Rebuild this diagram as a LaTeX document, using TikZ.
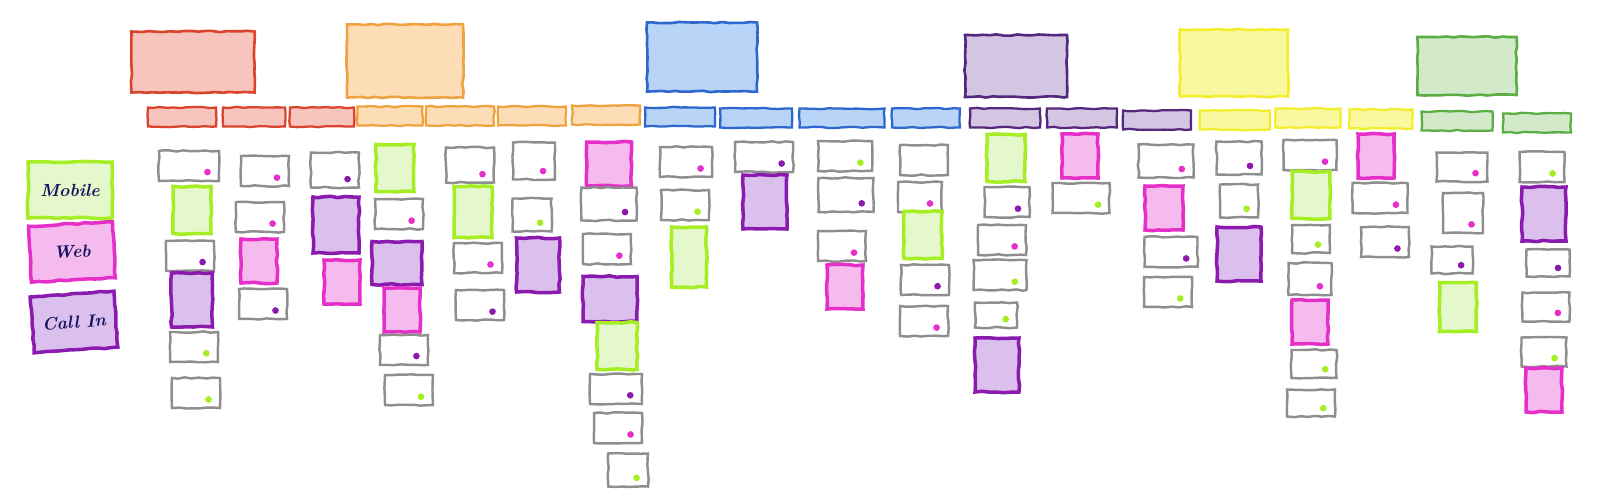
\documentclass[tikz,border=0pt]{standalone}
\usepackage{tikz}
\usetikzlibrary{positioning,decorations.pathmorphing}

\definecolor{redline}{HTML}{D8452C}
\definecolor{redfill}{HTML}{F8C5BE}
\definecolor{orangeline}{HTML}{EFA23F}
\definecolor{orangefill}{HTML}{FCDDB5}
\definecolor{blueline}{HTML}{2E68CF}
\definecolor{bluefill}{HTML}{B8D4F6}
\definecolor{purpleline}{HTML}{55287F}
\definecolor{purplefill}{HTML}{D4C5E2}
\definecolor{yellowline}{HTML}{F2EE2E}
\definecolor{yellowfill}{HTML}{FAF89E}
\definecolor{greenline}{HTML}{5AAE44}
\definecolor{greenfill}{HTML}{D2EACA}
\definecolor{mobline}{HTML}{A6EE24}
\definecolor{mobfill}{HTML}{E4F8CC}
\definecolor{webline}{HTML}{E62EC8}
\definecolor{webfill}{HTML}{F5BBEE}
\definecolor{callline}{HTML}{8A1BAE}
\definecolor{callfill}{HTML}{DBBFEC}
\definecolor{storygray}{HTML}{8E8E8E}
\definecolor{inkblue}{HTML}{12125E}

\begin{document}
\begin{tikzpicture}[x=0.02cm,y=0.02cm]
	\tikzset{sketch/.style={rectangle,inner sep=0pt,decorate,decoration={random steps,segment length=4pt,amplitude=0.4pt}},
		epic/.style={sketch,draw=#1line,fill=#1fill,line width=1.5pt},
		bar/.style={sketch,draw=#1line,fill=#1fill,line width=1.3pt,minimum width=1.36cm,minimum height=0.38cm},
		story/.style={sketch,draw=storygray,line width=1.4pt,minimum width=0.96cm,minimum height=0.6cm},
		spot/.style={path picture={\fill[#1] ([xshift=-0.24cm,yshift=0.18cm]path picture bounding box.south east) circle (1.9pt);}},
		mobile/.style={sketch,draw=mobline,fill=mobfill,line width=2pt,minimum width=0.76cm,minimum height=0.94cm},
		web/.style={sketch,draw=webline,fill=webfill,line width=2pt,minimum width=0.72cm,minimum height=0.88cm},
		callin/.style={sketch,draw=callline,fill=callfill,line width=2pt,minimum width=0.88cm,minimum height=1.08cm},
		legend/.style={minimum width=1.68cm,minimum height=1.12cm,font=\bfseries\itshape,text=inkblue}}
	\useasboundingbox (0,0) rectangle (1600,-495);
	% legend
	\node[mobile,legend] (lmob) at (70,-190) {Mobile};
	\node[web,legend,rotate=3] (lweb) at (72,-252) {Web};
	\node[callin,legend,rotate=4] (lcall) at (74,-322) {Call In};
	% epics
	\node[epic=red,minimum width=2.46cm,minimum height=1.22cm] (r) at (193,-62) {};
	\node[epic=orange,minimum width=2.32cm,minimum height=1.46cm] (o) at (405,-61) {};
	\node[epic=blue,minimum width=2.2cm,minimum height=1.38cm] (b) at (702,-57) {};
	\node[epic=purple,minimum width=2.04cm,minimum height=1.24cm] (p) at (1016,-66) {};
	\node[epic=yellow,minimum width=2.16cm,minimum height=1.34cm] (y) at (1234,-63) {};
	\node[epic=green,minimum width=1.98cm,minimum height=1.16cm] (g) at (1467,-66) {};
	% activities
	\node[bar=red] (r1) at (182,-117) {};
	\node[bar=red,minimum width=1.24cm] (r2) at (254,-117) {};
	\node[bar=red,minimum width=1.28cm] (r3) at (322,-117) {};
	\node[bar=orange,minimum width=1.3cm] (o1) at (390,-116) {};
	\node[bar=orange] (o2) at (460,-116) {};
	\node[bar=orange] (o3) at (532,-116) {};
	\node[bar=orange] (o4) at (606,-115) {};
	\node[bar=blue,minimum width=1.4cm] (b1) at (680,-117) {};
	\node[bar=blue,minimum width=1.44cm] (b2) at (756,-118) {};
	\node[bar=blue,minimum width=1.7cm] (b3) at (842,-118) {};
	\node[bar=blue] (b4) at (926,-118) {};
	\node[bar=purple,minimum width=1.4cm] (p1) at (1005,-118) {};
	\node[bar=purple,minimum width=1.4cm] (p2) at (1082,-118) {};
	\node[bar=purple] (p3) at (1157,-120) {};
	\node[bar=yellow,minimum width=1.4cm] (y1) at (1235,-120) {};
	\node[bar=yellow,minimum width=1.3cm] (y2) at (1308,-118) {};
	\node[bar=yellow,minimum width=1.26cm] (y3) at (1381,-119) {};
	\node[bar=green,minimum width=1.42cm] (g1) at (1457,-121) {};
	\node[bar=green] (g2) at (1537,-123) {};
	% stories
	\node[story,spot=webline,minimum width=1.2cm] (r1a) at (189,-166) {};
	\node[mobile] (r1b) at (192,-210) {};
	\node[story,spot=callline] (r1c) at (190,-256) {};
	\node[callin,minimum width=0.82cm] (r1d) at (192,-300) {};
	\node[story,spot=mobline] (r1e) at (194,-347) {};
	\node[story,spot=mobline] (r1f) at (196,-393) {};
	\node[story,spot=webline] (r2a) at (265,-171) {};
	\node[story,spot=webline] (r2b) at (260,-217) {};
	\node[web] (r2c) at (259,-261) {};
	\node[story,spot=callline] (r2d) at (263,-304) {};
	\node[story,spot=callline,minimum height=0.7cm] (r3a) at (335,-170) {};
	\node[callin,minimum width=0.92cm,minimum height=1.12cm] (r3b) at (336,-225) {};
	\node[web] (r3c) at (342,-282) {};
	\node[mobile] (o1a) at (395,-168) {};
	\node[story,spot=webline] (o1b) at (399,-214) {};
	\node[callin,minimum width=1cm,minimum height=0.86cm] (o1c) at (397,-263) {};
	\node[web] (o1d) at (402,-310) {};
	\node[story,spot=callline] (o1e) at (404,-350) {};
	\node[story,spot=mobline] (o1f) at (409,-390) {};
	\node[story,spot=webline,minimum height=0.7cm] (o2a) at (470,-165) {};
	\node[mobile,minimum height=1.02cm] (o2b) at (473,-212) {};
	\node[story,spot=webline] (o2c) at (478,-258) {};
	\node[story,spot=callline] (o2d) at (480,-305) {};
	\node[story,spot=webline,minimum width=0.84cm,minimum height=0.74cm] (o3a) at (534,-161) {};
	\node[story,spot=mobline,minimum width=0.78cm,minimum height=0.66cm] (o3b) at (532,-215) {};
	\node[callin,minimum width=0.86cm] (o3c) at (538,-265) {};
	\node[web,minimum width=0.9cm] (o4a) at (609,-164) {};
	\node[story,spot=callline,minimum width=1.1cm,minimum height=0.66cm] (o4b) at (609,-204) {};
	\node[story,spot=webline] (o4c) at (607,-249) {};
	\node[callin,minimum width=1.08cm,minimum height=0.9cm] (o4d) at (610,-299) {};
	\node[mobile,minimum width=0.8cm] (o4e) at (617,-346) {};
	\node[story,spot=callline,minimum width=1.04cm] (o4f) at (616,-389) {};
	\node[story,spot=webline] (o4g) at (618,-428) {};
	\node[story,spot=mobline,minimum width=0.8cm,minimum height=0.66cm] (o4h) at (628,-470) {};
	\node[story,spot=webline,minimum width=1.04cm] (b1a) at (686,-162) {};
	\node[story,spot=mobline] (b1b) at (685,-205) {};
	\node[mobile,minimum width=0.7cm,minimum height=1.2cm] (b1c) at (689,-257) {};
	\node[story,spot=callline,minimum width=1.16cm] (b2a) at (764,-157) {};
	\node[callin] (b2b) at (765,-202) {};
	\node[story,spot=mobline,minimum width=1.08cm] (b3a) at (845,-156) {};
	\node[story,spot=callline,minimum width=1.1cm,minimum height=0.68cm] (b3b) at (846,-195) {};
	\node[story,spot=webline] (b3c) at (842,-246) {};
	\node[web] (b3d) at (845,-287) {};
	\node[story] (b4a) at (924,-160) {};
	\node[story,spot=webline,minimum width=0.88cm] (b4b) at (920,-197) {};
	\node[mobile] (b4c) at (923,-235) {};
	\node[story,spot=callline] (b4d) at (925,-280) {};
	\node[story,spot=webline] (b4e) at (924,-321) {};
	\node[mobile] (p1a) at (1006,-158) {};
	\node[story,spot=callline,minimum width=0.9cm] (p1b) at (1007,-202) {};
	\node[story,spot=webline] (p1c) at (1002,-240) {};
	\node[story,spot=mobline,minimum width=1.06cm] (p1d) at (1000,-275) {};
	\node[story,spot=mobline,minimum width=0.84cm,minimum height=0.5cm] (p1e) at (996,-315) {};
	\node[callin] (p1f) at (997,-365) {};
	\node[web] (p2a) at (1080,-156) {};
	\node[story,spot=mobline,minimum width=1.14cm] (p2b) at (1081,-198) {};
	\node[story,spot=webline,minimum width=1.1cm,minimum height=0.66cm] (p3a) at (1166,-161) {};
	\node[web,minimum width=0.76cm] (p3b) at (1164,-208) {};
	\node[story,spot=callline,minimum width=1.06cm] (p3c) at (1171,-252) {};
	\node[story,spot=mobline] (p3d) at (1168,-292) {};
	\node[story,spot=callline,minimum width=0.9cm,minimum height=0.66cm] (y1a) at (1239,-158) {};
	\node[story,spot=mobline,minimum width=0.76cm,minimum height=0.66cm] (y1b) at (1239,-201) {};
	\node[callin] (y1c) at (1239,-254) {};
	\node[story,spot=webline,minimum width=1.06cm] (y2a) at (1310,-155) {};
	\node[mobile] (y2b) at (1311,-195) {};
	\node[story,spot=mobline,minimum width=0.76cm,minimum height=0.56cm] (y2c) at (1311,-239) {};
	\node[story,spot=webline,minimum width=0.86cm,minimum height=0.64cm] (y2d) at (1310,-279) {};
	\node[web] (y2e) at (1310,-322) {};
	\node[story,spot=mobline,minimum width=0.9cm,minimum height=0.56cm] (y2f) at (1314,-364) {};
	\node[story,spot=mobline,minimum width=0.96cm,minimum height=0.54cm] (y2g) at (1311,-403) {};
	\node[web] (y3a) at (1376,-156) {};
	\node[story,spot=webline,minimum width=1.1cm] (y3b) at (1380,-198) {};
	\node[story,spot=callline] (y3c) at (1385,-242) {};
	\node[story,spot=webline,minimum width=1.02cm,minimum height=0.58cm] (g1a) at (1462,-167) {};
	\node[story,spot=webline,minimum width=0.8cm,minimum height=0.8cm] (g1b) at (1463,-213) {};
	\node[story,spot=callline,minimum width=0.82cm,minimum height=0.54cm] (g1c) at (1452,-260) {};
	\node[mobile,minimum width=0.74cm,minimum height=0.98cm] (g1d) at (1458,-307) {};
	\node[story,spot=mobline,minimum width=0.9cm] (g2a) at (1542,-167) {};
	\node[callin] (g2b) at (1544,-214) {};
	\node[story,spot=callline,minimum width=0.86cm,minimum height=0.54cm] (g2c) at (1548,-263) {};
	\node[story,spot=webline,minimum width=0.94cm,minimum height=0.58cm] (g2d) at (1546,-307) {};
	\node[story,spot=mobline,minimum width=0.9cm,minimum height=0.58cm] (g2e) at (1544,-352) {};
	\node[web] (g2f) at (1544,-390) {};
\end{tikzpicture}
\end{document}
